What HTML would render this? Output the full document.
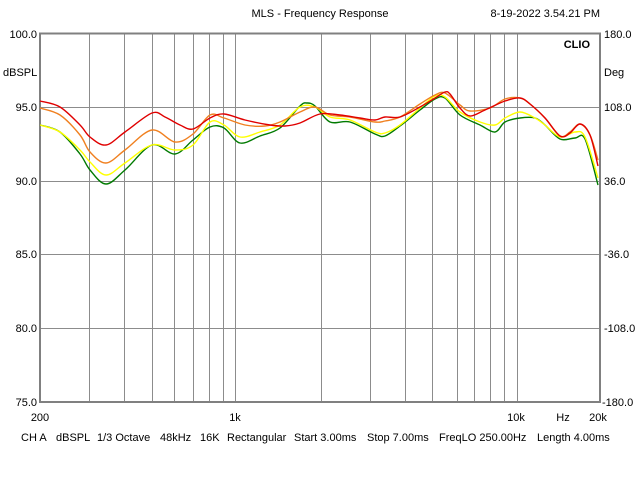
<!DOCTYPE html>
<html><head><style>
html,body{margin:0;padding:0;background:#fff;}
svg{display:block;font-family:"Liberation Sans",sans-serif;font-size:11px;}
</style></head><body>
<svg id="s" width="640" height="480" xmlns="http://www.w3.org/2000/svg">
<rect width="640" height="480" fill="#fff"/>
<g stroke="#8c8c8c" stroke-width="1">
<line x1="89.5" y1="33" x2="89.5" y2="402"/>
<line x1="124.5" y1="33" x2="124.5" y2="402"/>
<line x1="152.5" y1="33" x2="152.5" y2="402"/>
<line x1="174.5" y1="33" x2="174.5" y2="402"/>
<line x1="193.5" y1="33" x2="193.5" y2="402"/>
<line x1="209.5" y1="33" x2="209.5" y2="402"/>
<line x1="223.5" y1="33" x2="223.5" y2="402"/>
<line x1="235.5" y1="33" x2="235.5" y2="402"/>
<line x1="321.5" y1="33" x2="321.5" y2="402"/>
<line x1="370.5" y1="33" x2="370.5" y2="402"/>
<line x1="405.5" y1="33" x2="405.5" y2="402"/>
<line x1="432.5" y1="33" x2="432.5" y2="402"/>
<line x1="457.5" y1="33" x2="457.5" y2="402"/>
<line x1="474.5" y1="33" x2="474.5" y2="402"/>
<line x1="490.5" y1="33" x2="490.5" y2="402"/>
<line x1="504.5" y1="33" x2="504.5" y2="402"/>
<line x1="517.5" y1="33" x2="517.5" y2="402"/>
<line x1="40" y1="107.5" x2="600" y2="107.5"/>
<line x1="40" y1="181.5" x2="600" y2="181.5"/>
<line x1="40" y1="254.5" x2="600" y2="254.5"/>
<line x1="40" y1="328.5" x2="600" y2="328.5"/>
</g>
<rect x="40" y="33.5" width="560" height="368.5" fill="none" stroke="#808080" stroke-width="2"/>
<g fill="none" stroke-width="1.4" stroke-linejoin="round">
<path class="c" stroke="#007a00" data-p="40,125 60,132 80,154 90,170 106,184 125,170 152,145 175,154 193,140 210,127 224,128 240,143 260,136 280,128 300,106 307,103 315,106 330,122 350,122 375,134 385,136 400,126 420,110 435,99 445,98 460,115 480,125 495,132 505,122 520,118 535,118 545,125 560,139 575,138 585,139 598,185"/>
<path class="c" stroke="#ffff00" data-p="40,125 60,132 80,150 90,162 106,175 125,163 152,145 175,150 193,145 210,122 224,125 240,137 260,132 280,125 300,107 315,107 330,117 350,120 375,132 385,133 400,125 420,108 435,96 445,97 460,112 480,122 495,125 505,118 520,112 535,118 545,125 560,137 575,132 585,137 598,178"/>
<path class="c" stroke="#f08020" data-p="40,108 60,115 80,135 90,152 106,163 125,150 152,130 175,142 193,134 210,115 224,118 245,125 265,126 280,122 300,112 315,107 330,115 350,117 375,122 385,121 400,117 420,104 435,95 445,93 460,105 470,111 490,108 505,99 520,98 530,104 545,118 560,136 570,132 580,124 590,135 598,160"/>
<path class="c" stroke="#e00000" data-p="40,101 60,107 80,125 90,137 106,145 125,132 152,113 165,117 180,125 193,129 210,118 224,114 245,120 270,125 285,126 300,123 320,114 340,115 360,118 375,120 385,117 400,117 420,107 435,98 445,92 450,94 460,108 470,116 485,110 505,101 520,98 530,104 545,118 560,136 570,133 580,124 590,135 598,166"/>
</g>
<g fill="#000">
<text x="320" y="17" text-anchor="middle">MLS - Frequency Response</text>
<text x="600" y="17" text-anchor="end">8-19-2022 3.54.21 PM</text>
<text x="590" y="48" text-anchor="end" font-weight="bold">CLIO</text>
<text x="37" y="38" text-anchor="end">100.0</text>
<text x="3" y="76">dBSPL</text>
<text x="37" y="111" text-anchor="end">95.0</text>
<text x="37" y="185" text-anchor="end">90.0</text>
<text x="37" y="258" text-anchor="end">85.0</text>
<text x="37" y="332" text-anchor="end">80.0</text>
<text x="37" y="406" text-anchor="end">75.0</text>
<text x="604" y="38">180.0</text>
<text x="604" y="76">Deg</text>
<text x="604" y="111">108.0</text>
<text x="604" y="185">36.0</text>
<text x="604" y="258">-36.0</text>
<text x="604" y="332">-108.0</text>
<text x="602" y="406">-180.0</text>
<text x="40" y="421" text-anchor="middle">200</text>
<text x="235" y="421" text-anchor="middle">1k</text>
<text x="516" y="421" text-anchor="middle">10k</text>
<text x="563" y="421" text-anchor="middle">Hz</text>
<text x="598" y="421" text-anchor="middle">20k</text>
<text x="21" y="441">CH A</text>
<text x="56" y="441">dBSPL</text>
<text x="97" y="441">1/3 Octave</text>
<text x="160" y="441">48kHz</text>
<text x="200" y="441">16K</text>
<text x="227" y="441">Rectangular</text>
<text x="294" y="441">Start 3.00ms</text>
<text x="367" y="441">Stop 7.00ms</text>
<text x="439" y="441">FreqLO 250.00Hz</text>
<text x="537" y="441">Length 4.00ms</text>
</g>
</svg>
<script>
document.querySelectorAll('path.c').forEach(function(e){
var p=e.getAttribute('data-p').trim().split(/\s+/).map(function(s){return s.split(',').map(Number);});
var d='M'+p[0][0]+','+p[0][1];
for(var i=0;i<p.length-1;i++){
var p0=p[i-1]||p[i],p1=p[i],p2=p[i+1],p3=p[i+2]||p2;
var c1x=p1[0]+(p2[0]-p0[0])/6,c1y=p1[1]+(p2[1]-p0[1])/6;
var c2x=p2[0]-(p3[0]-p1[0])/6,c2y=p2[1]-(p3[1]-p1[1])/6;
d+=' C'+c1x+','+c1y+' '+c2x+','+c2y+' '+p2[0]+','+p2[1];}
e.setAttribute('d',d);});
</script>
</body></html>
